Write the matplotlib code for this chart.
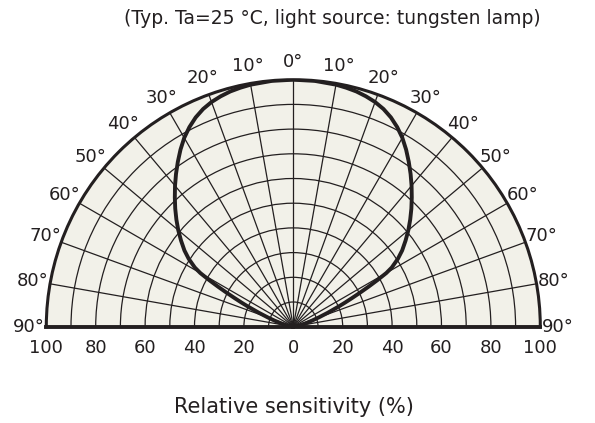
import numpy as np
import matplotlib
matplotlib.use('Agg')
import matplotlib.pyplot as plt

plt.rcParams['font.family'] = ['DejaVu Sans']

# Directional sensitivity data (angle in degrees, relative sensitivity in %)
angle_deg = [-90, -85, -80, -75, -72, -70, -68, -66, -65, -64, -63, -62, -61, -60,
             -59, -57, -55, -52.5, -50, -47.5, -45, -42.5, -40, -37.5, -35, -32.5, -30,
             -27.5, -25, -22.5, -20, -17.5, -15, -12.5, -10, -5,
             0, 5, 10, 12.5, 15, 17.5, 20, 22.5, 25, 27.5, 30, 32.5, 35, 37.5, 40,
             42.5, 45, 47.5, 50, 52.5, 55, 57, 59, 60, 61, 62,
             63, 64, 65, 66, 68, 70, 72, 75, 80, 85, 90]
sensitivity = [0, 0.7, 2.2, 5, 8, 11, 15, 20.2, 23.2, 26.5, 30.3, 34.5, 39, 43.5,
               46.5, 50.5, 53.8, 57.3, 60.8, 64.2, 67.6, 71, 74.5, 78, 81.5, 85, 88.3,
               91.1, 93.5, 95.4, 96.8, 97.8, 98.6, 99.1, 99.5, 99.9,
               100, 99.9, 99.5, 99.1, 98.6, 97.8, 96.8, 95.4, 93.5, 91.1, 88.3, 85, 81.5, 78, 74.5,
               71, 67.6, 64.2, 60.8, 57.3, 53.8, 50.5, 46.5, 43.5, 39, 34.5,
               30.3, 26.5, 23.2, 20.2, 15, 11, 8, 5, 2.2, 0.7, 0]

radial_grid = [10, 20, 30, 40, 50, 60, 70, 80, 90]
radial_tick_pos = [-100, -80, -60, -40, -20, 0, 20, 40, 60, 80, 100]
radial_tick_labels = ['100', '80', '60', '40', '20', '0', '20', '40', '60', '80', '100']
angle_ticks = [-90, -80, -70, -60, -50, -40, -30, -20, -10, 0, 10, 20, 30, 40, 50, 60, 70, 80, 90]
angle_labels = ['90°', '80°', '70°', '60°', '50°', '40°', '30°', '20°', '10°', '0°',
                '10°', '20°', '30°', '40°', '50°', '60°', '70°', '80°', '90°']

title_text = '(Typ. Ta=25 °C, light source: tungsten lamp)'
xlabel_text = 'Relative sensitivity (%)'

W, H = 595, 423
fig = plt.figure(figsize=(W / 100, H / 100), dpi=100)
fig.patch.set_facecolor('white')

# semicircle centre (pixels from top-left) and radius in pixels
cx, cy, R = 293.3, 326.7, 247.0
# square box of side 2R; the half-disc is centred vertically inside it
box_top = cy - R / 2 - R
ax = fig.add_axes([(cx - R) / W, (H - (box_top + 2 * R)) / H, 2 * R / W, 2 * R / H],
                  projection='polar')
ax.set_theta_zero_location('N')
ax.set_theta_direction(-1)
ax.set_thetamin(-90)
ax.set_thetamax(90)
ax.set_ylim(0, 100)
ax.set_facecolor('#F2F1E9')

ink = '#231F20'
ax.set_xticks(np.deg2rad(angle_ticks))
ax.set_yticks(radial_grid)
ax.set_xticklabels([])
ax.set_yticklabels([])
ax.tick_params(length=0)
ax.grid(True, color=ink, linewidth=0.9)

for name, sp in ax.spines.items():
    sp.set_color(ink)
    if name == 'polar':
        sp.set_linewidth(2.2)
    elif name in ('start', 'end'):
        sp.set_linewidth(2.8)
    else:
        sp.set_visible(False)

ax.plot(np.deg2rad(angle_deg), sensitivity, color=ink, linewidth=2.8,
        solid_capstyle='round', solid_joinstyle='round', zorder=5)

fs = 13
for a, lab in zip(angle_ticks, angle_labels):
    ax.text(np.deg2rad(a), 107, lab, ha='center', va='center', fontsize=fs,
            color=ink, clip_on=False)

for p, lab in zip(radial_tick_pos, radial_tick_labels):
    th = np.deg2rad(90 if p >= 0 else -90)
    ax.annotate(lab, xy=(th, abs(p)), xytext=(0, -15.5), textcoords='offset points',
                ha='center', va='center', fontsize=fs, color=ink, annotation_clip=False)

fig.text(332 / W, 1 - 19 / H, title_text, ha='center', va='center', fontsize=13.5, color=ink)
fig.text(294 / W, 1 - 407 / H, xlabel_text, ha='center', va='center', fontsize=15, color=ink)

fig.savefig('out.png', dpi=100, facecolor='white')
